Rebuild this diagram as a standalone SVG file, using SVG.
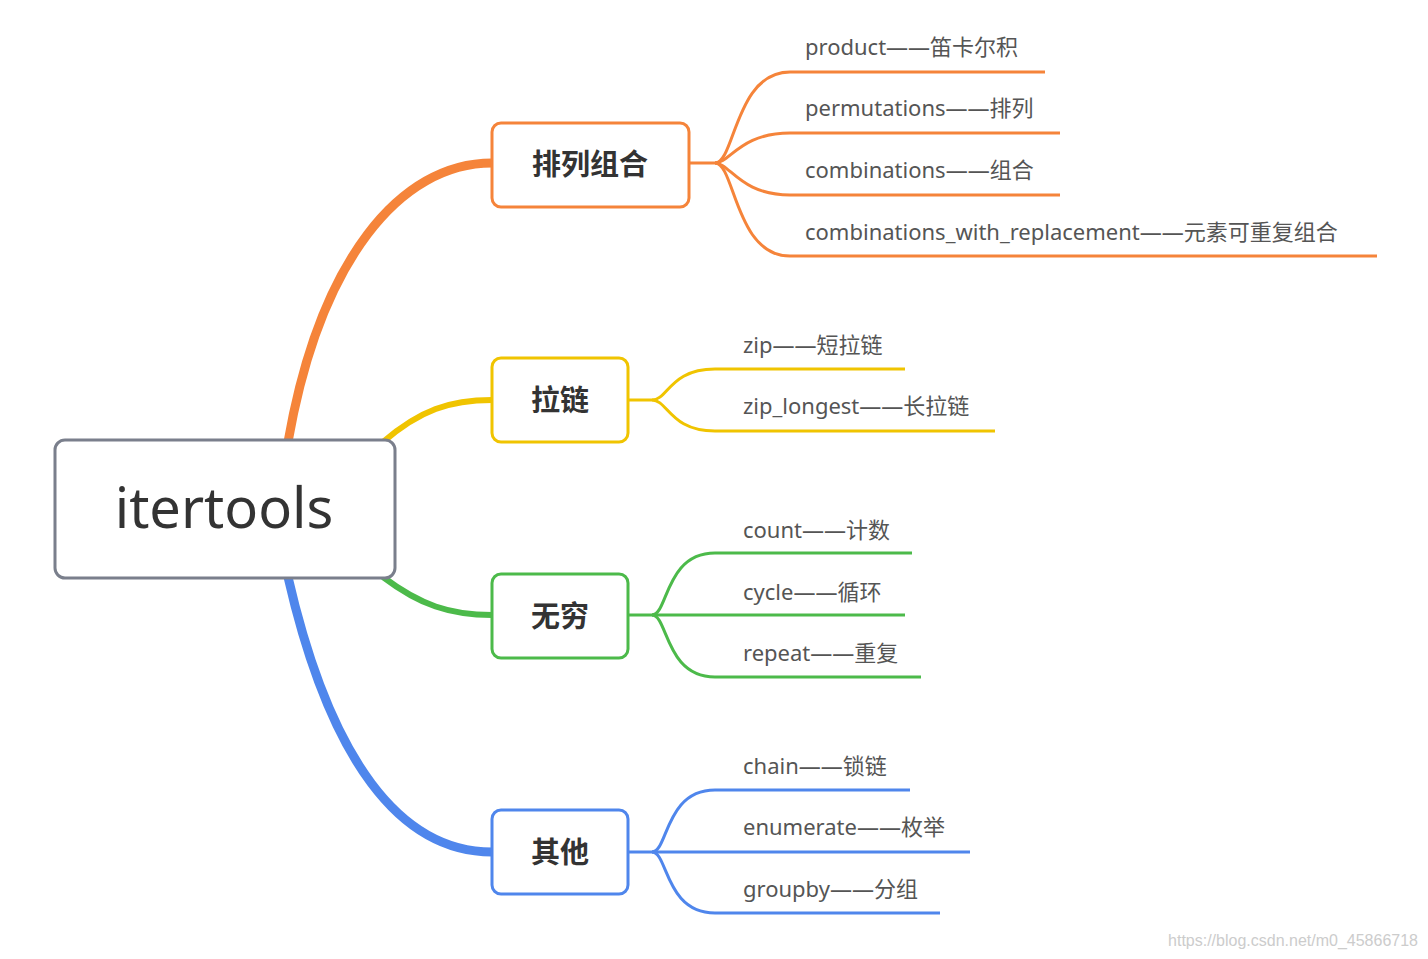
<svg xmlns="http://www.w3.org/2000/svg" width="1428" height="959" viewBox="0 0 1428 959">
<style>
.t{font-family:"Noto Sans","Noto Sans CJK SC",sans-serif;font-size:22px;fill:#555}
.n{font-family:"Noto Sans CJK SC",sans-serif;font-size:29px;font-weight:bold;fill:#333;text-anchor:middle}
.c{fill:none;stroke-width:3}
.box{fill:#fff;stroke-width:3}
</style>
<rect width="1428" height="959" fill="#fff"/>
<g id="connectors">
<path d="M288,442 C320,260 400,163 492,163" fill="none" stroke="#f5843a" stroke-width="9"/>
<path d="M383,442 C420,410 450,400 492,400" fill="none" stroke="#f0c400" stroke-width="6"/>
<path d="M383,577 C420,605 450,615 492,615" fill="none" stroke="#4cba4a" stroke-width="6"/>
<path d="M288,577 C330,760 400,852 492,852" fill="none" stroke="#4f86ec" stroke-width="9"/>
<g stroke="#f5843a" class="c">
<path d="M690,163 H715 C735,163 735,72 790,72 H1045"/>
<path d="M715,163 C730,163 740,133 790,133 H1060"/>
<path d="M715,163 C730,163 740,195 790,195 H1060"/>
<path d="M715,163 C735,163 735,256 790,256 H1377"/>
</g>
<g stroke="#f0c400" class="c">
<path d="M628,400 H652 C668,400 670,369 715,369 H905"/>
<path d="M652,400 C668,400 670,431 715,431 H995"/>
</g>
<g stroke="#4cba4a" class="c">
<path d="M628,615 H652 C668,615 665,553 715,553 H912"/>
<path d="M652,615 H905"/>
<path d="M652,615 C668,615 665,677 715,677 H921"/>
</g>
<g stroke="#4f86ec" class="c">
<path d="M628,852 H652 C668,852 665,790 715,790 H910"/>
<path d="M652,852 H970"/>
<path d="M652,852 C668,852 665,913 715,913 H940"/>
</g>
</g>
<g id="root"><rect x="55" y="440" width="340" height="138" rx="10" class="box" stroke="#7a7f8c" stroke-width="4"/>
<text x="224" y="528" font-family="Noto Sans,sans-serif" font-size="56" fill="#333" text-anchor="middle">itertools</text></g>
<g id="n1"><rect x="492" y="123" width="197" height="84" rx="9" class="box" stroke="#f5843a"/><text x="590" y="175" class="n">排列组合</text></g>
<g id="n2"><rect x="492" y="358" width="136" height="84" rx="9" class="box" stroke="#f0c400"/><text x="560" y="411" class="n">拉链</text></g>
<g id="n3"><rect x="492" y="574" width="136" height="84" rx="9" class="box" stroke="#4cba4a"/><text x="560" y="627" class="n">无穷</text></g>
<g id="n4"><rect x="492" y="810" width="136" height="84" rx="9" class="box" stroke="#4f86ec"/><text x="560" y="863" class="n">其他</text></g>
<g id="leaves">
<text x="805" y="55" class="t">product——笛卡尔积</text>
<text x="805" y="116" class="t">permutations——排列</text>
<text x="805" y="178" class="t">combinations——组合</text>
<text x="805" y="240" class="t">combinations_with_replacement——元素可重复组合</text>
<text x="743" y="353" class="t">zip——短拉链</text>
<text x="743" y="414" class="t">zip_longest——长拉链</text>
<text x="743" y="538" class="t">count——计数</text>
<text x="743" y="600" class="t">cycle——循环</text>
<text x="743" y="661" class="t">repeat——重复</text>
<text x="743" y="774" class="t">chain——锁链</text>
<text x="743" y="835" class="t">enumerate——枚举</text>
<text x="743" y="897" class="t">groupby——分组</text>
</g>
<text x="1418" y="946" font-family="Liberation Sans,sans-serif" font-size="16" fill="#ccc" text-anchor="end">https://blog.csdn.net/m0_45866718</text>
</svg>
